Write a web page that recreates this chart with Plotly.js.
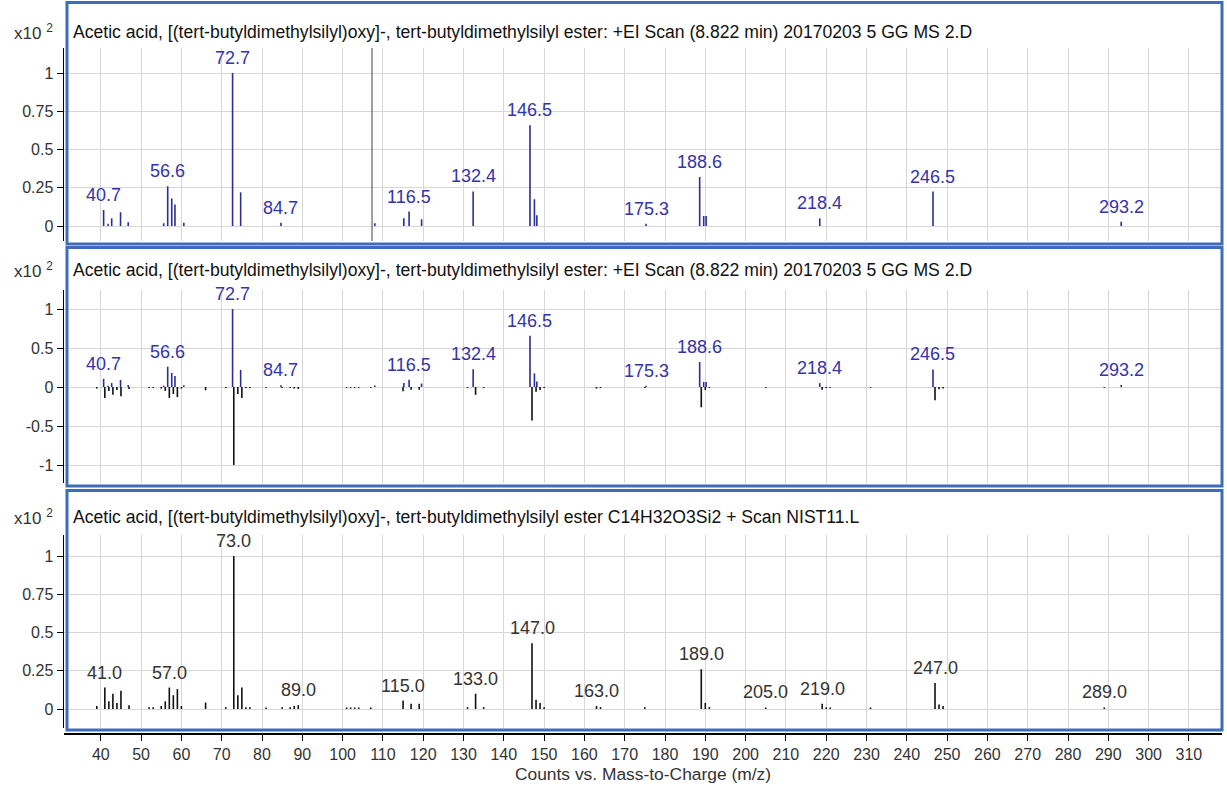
<!DOCTYPE html>
<html>
<head>
<meta charset="utf-8">
<script src="https://cdn.plot.ly/plotly-3.0.1.min.js"></script>
<style>html,body{margin:0;padding:0;background:#fff;}#chart{width:1227px;height:790px;}</style>
</head>
<body>
<div id="chart"></div>
<script>
// ---------------- DATA ----------------
const panelTitles = [
  "Acetic acid, [(tert-butyldimethylsilyl)oxy]-, tert-butyldimethylsilyl ester: +EI Scan (8.822 min) 20170203 5 GG MS 2.D",
  "Acetic acid, [(tert-butyldimethylsilyl)oxy]-, tert-butyldimethylsilyl ester: +EI Scan (8.822 min) 20170203 5 GG MS 2.D",
  "Acetic acid, [(tert-butyldimethylsilyl)oxy]-, tert-butyldimethylsilyl ester C14H32O3Si2 + Scan NIST11.L"
];
const xAxisTitle = "Counts vs. Mass-to-Charge (m/z)";
const scaleLabel = "x10 <sup>2</sup>";

// Sample spectrum (relative abundance, x10^2)
const sampleMz  = [40.7, 41.8, 42.7, 44.9, 46.8, 55.6, 56.6, 57.6, 58.4, 60.6, 72.7, 74.7, 84.7, 108.0, 115.2, 116.5, 119.6, 132.4, 146.5, 147.6, 148.2, 175.3, 188.6, 189.6, 190.2, 218.4, 246.5, 293.2];
const sampleInt = [0.105, 0.015, 0.05, 0.09, 0.025, 0.018, 0.26, 0.18, 0.14, 0.022, 1.0, 0.22, 0.022, 0.018, 0.05, 0.094, 0.044, 0.226, 0.658, 0.175, 0.07, 0.015, 0.32, 0.065, 0.065, 0.05, 0.225, 0.027];
const sampleLabels = [40.7, 56.6, 72.7, 84.7, 116.5, 132.4, 146.5, 175.3, 188.6, 218.4, 246.5, 293.2];

// Library (NIST11) spectrum
const refMz  = [39, 41, 42, 43, 44, 45, 47, 52, 53, 55, 56, 57, 58, 59, 60, 66, 71, 73, 74, 75, 76, 77, 81, 85, 87, 88, 89, 101, 102, 103, 104, 107, 115, 117, 119, 131, 133, 135, 147, 148, 149, 150, 163, 164, 175, 189, 190, 191, 205, 219, 220, 221, 231, 247, 248, 249, 289];
const refInt = [0.02, 0.14, 0.05, 0.10, 0.04, 0.12, 0.025, 0.012, 0.012, 0.02, 0.05, 0.14, 0.09, 0.13, 0.02, 0.042, 0.012, 1.0, 0.09, 0.14, 0.012, 0.012, 0.01, 0.012, 0.012, 0.02, 0.025, 0.01, 0.01, 0.01, 0.01, 0.01, 0.055, 0.035, 0.035, 0.012, 0.10, 0.012, 0.43, 0.06, 0.04, 0.012, 0.02, 0.012, 0.012, 0.26, 0.04, 0.012, 0.01, 0.035, 0.012, 0.01, 0.01, 0.17, 0.03, 0.02, 0.01];
const refLabels = [41, 57, 73, 89, 115, 133, 147, 163, 189, 205, 219, 247, 289];

const cursorMz = 107.3;

const xTicks = [40, 50, 60, 70, 80, 90, 100, 110, 120, 130, 140, 150, 160, 170, 180, 190, 200, 210, 220, 230, 240, 250, 260, 270, 280, 290, 300, 310];
const yTicksPos = [0, 0.25, 0.5, 0.75, 1];
const yTicksPosText = ["0", "0.25", "0.5", "0.75", "1"];
const yTicksMirror = [-1, -0.5, 0, 0.5, 1];
const yTicksMirrorText = ["-1", "-0.5", "0", "0.5", "1"];

// ---------------- STYLE / LAYOUT ----------------
const W = 1227, H = 790;
const ML = 64, MR = 5, MT = 0, MB = 57;
const PW = W - ML - MR, PH = H - MT - MB;
const px2x = p => (p - ML) / PW;
const px2y = p => (PH + MT - p) / PH;

const FONT = "Liberation Sans, Arial, sans-serif";
const BLUE = "#2b2d98";
const BLUE_TXT = "#3434a8";
const BOX = "#3e6cb9";
const GRID = "#d7d7d7";

function sticks(mz, val, sign) {
  const xs = [], ys = [];
  for (let i = 0; i < mz.length; i++) {
    xs.push(mz[i], mz[i], null);
    ys.push(0, sign * val[i], null);
  }
  return {xs, ys};
}
function lookup(mz, val, m) {
  let best = 0, bd = 1e9;
  for (let i = 0; i < mz.length; i++) { const d = Math.abs(mz[i] - m); if (d < bd) { bd = d; best = i; } }
  return val[best];
}

const s1 = sticks(sampleMz, sampleInt, 1);
const r2 = sticks(refMz, refInt, -1);
const r3 = sticks(refMz, refInt, 1);

const traces = [
  {x: s1.xs, y: s1.ys, xaxis: "x", yaxis: "y", mode: "lines", line: {color: BLUE, width: 1.6}, hoverinfo: "skip", showlegend: false},
  {x: r2.xs, y: r2.ys, xaxis: "x2", yaxis: "y2", mode: "lines", line: {color: "#111", width: 1.6}, hoverinfo: "skip", showlegend: false},
  {x: s1.xs, y: s1.ys, xaxis: "x2", yaxis: "y2", mode: "lines", line: {color: BLUE, width: 1.6}, hoverinfo: "skip", showlegend: false},
  {x: r3.xs, y: r3.ys, xaxis: "x3", yaxis: "y3", mode: "lines", line: {color: "#111", width: 1.6}, hoverinfo: "skip", showlegend: false}
];

const xRange = [40 - (100.8 - ML) / 4.03, 40 + (W - MR - 100.8) / 4.03];

const xBase = {
  range: xRange, tickmode: "array", tickvals: xTicks, showgrid: true, gridcolor: GRID, gridwidth: 1,
  zeroline: false, showticklabels: false, ticks: "", showline: false, fixedrange: true
};
const yBase = {
  showline: true, linecolor: "#000", linewidth: 1.5, ticks: "outside", ticklen: 6, tickcolor: "#000", tickwidth: 1,
  showgrid: true, gridcolor: GRID, zeroline: false, tickfont: {family: FONT, size: 16, color: "#333"}, fixedrange: true,
  tickmode: "array"
};

// panel geometry in pixels: grid area top/bottom, zero pixel, px per unit
const panels = [
  {top: 48, bot: 241, zero: 226, ppu: 153, box: [2.5, 244], titleY: 32},
  {top: 290, bot: 483, zero: 387, ppu: 78, box: [247.5, 486], titleY: 270},
  {top: 535, bot: 728, zero: 709, ppu: 153, box: [490.5, 730], titleY: 517}
];
const yr = p => [(p.zero - p.bot) / p.ppu, (p.zero - p.top) / p.ppu];
const dom = p => [px2y(p.bot), px2y(p.top)];

const layout = {
  width: W, height: H,
  margin: {l: ML, r: MR, t: MT, b: MB, pad: 0},
  paper_bgcolor: "#fff", plot_bgcolor: "#fff",
  font: {family: FONT, color: "#333"},
  showlegend: false,
  xaxis: Object.assign({}, xBase, {anchor: "y"}),
  xaxis2: Object.assign({}, xBase, {anchor: "y2"}),
  xaxis3: Object.assign({}, xBase, {
    anchor: "free", position: 0, showticklabels: true, ticks: "outside", ticklen: 6, tickcolor: "#000",
    showline: true, linecolor: "#000", linewidth: 1.5,
    tickfont: {family: FONT, size: 16, color: "#333"},
    title: {text: xAxisTitle, font: {family: FONT, size: 17.4, color: "#333"}, standoff: 6}
  }),
  yaxis: Object.assign({}, yBase, {anchor: "x", domain: dom(panels[0]), range: yr(panels[0]), tickvals: yTicksPos, ticktext: yTicksPosText}),
  yaxis2: Object.assign({}, yBase, {anchor: "x2", domain: dom(panels[1]), range: yr(panels[1]), tickvals: yTicksMirror, ticktext: yTicksMirrorText}),
  yaxis3: Object.assign({}, yBase, {anchor: "x3", domain: dom(panels[2]), range: yr(panels[2]), tickvals: yTicksPos, ticktext: yTicksPosText}),
  shapes: [],
  annotations: []
};

// boxes
panels.forEach(p => {
  layout.shapes.push({type: "rect", xref: "paper", yref: "paper", x0: px2x(67), x1: px2x(1222), y0: px2y(p.box[1]), y1: px2y(p.box[0]),
    line: {color: BOX, width: 3}, fillcolor: "rgba(0,0,0,0)", layer: "above"});
});
// cursor line in top panel
layout.shapes.push({type: "line", xref: "x", yref: "y domain", x0: cursorMz, x1: cursorMz, y0: 0, y1: 1, line: {color: "#444", width: 1}, layer: "above"});

// titles and scale labels
panels.forEach((p, i) => {
  layout.annotations.push({xref: "paper", yref: "paper", x: px2x(71), y: px2y(p.titleY), xanchor: "left", yanchor: "middle",
    text: panelTitles[i], showarrow: false, font: {family: FONT, size: 17.6, color: "#111"}});
  layout.annotations.push({xref: "paper", yref: "paper", x: px2x(55), y: px2y(p.titleY), xanchor: "right", yanchor: "middle",
    text: scaleLabel, showarrow: false, font: {family: FONT, size: 17, color: "#333"}});
});

// peak labels
sampleLabels.forEach(m => {
  const v = lookup(sampleMz, sampleInt, m);
  ["y", "y2"].forEach((ya, k) => {
    layout.annotations.push({xref: k === 0 ? "x" : "x2", yref: ya, x: m, y: v, xanchor: "center", yanchor: "middle", yshift: 15,
      text: m.toFixed(1), showarrow: false, font: {family: FONT, size: 18, color: BLUE_TXT}});
  });
});
refLabels.forEach(m => {
  const v = lookup(refMz, refInt, m);
  layout.annotations.push({xref: "x3", yref: "y3", x: m, y: v, xanchor: "center", yanchor: "middle", yshift: 15,
    text: m.toFixed(1), showarrow: false, font: {family: FONT, size: 18, color: "#333"}});
});

Plotly.newPlot("chart", traces, layout, {displayModeBar: false, staticPlot: true});
</script>
</body>
</html>
